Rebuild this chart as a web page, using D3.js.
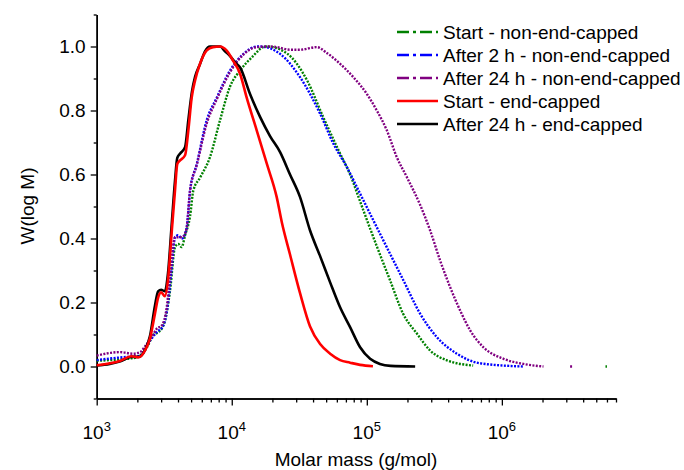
<!DOCTYPE html>
<html><head><meta charset="utf-8">
<script src="https://cdn.jsdelivr.net/npm/d3@7"></script>
<style>
body{margin:0;background:#fff;}
text{font-family:"Liberation Sans",Arial,sans-serif;fill:#000;}
</style></head>
<body><svg id="c" width="684" height="470"></svg>
<script>
// ---- data (molar mass in g/mol, normalized W(log M)) ----
const seriesNames = ["Start - non-end-capped","After 2 h - non-end-capped","After 24 h - non-end-capped","Start - end-capped","After 24 h - end-capped"];
const seriesColors = ["#008000","#0000ff","#800080","#ff0000","#000000"];

const startNonM = [1000,1254,1488,1765,1989,2165,2357,2613,2846,3045,3205,3491,3802,4022,4260,4510,4913,5194,5823,6907,8192,9715,11520,14380,17060,18260,25680,36130,47470,60260,75210,93890,119200,148800,185700,235800,294400,393400,613000,null,5850000,6000000];
const startNonW = [0.018,0.02,0.022,0.025,0.029,0.04,0.06,0.097,0.107,0.12,0.144,0.237,0.373,0.383,0.373,0.41,0.47,0.55,0.59,0.655,0.77,0.875,0.925,0.97,0.998,1.0,0.978,0.894,0.78,0.685,0.6,0.49,0.373,0.269,0.165,0.102,0.05,0.019,0.003,null,0.0,0.0];

const after2NonM = [1000,1566,2093,2482,2781,3114,3392,3594,3802,4003,4290,4641,4913,5510,6530,7743,9715,12215,15320,16200,22790,32050,45100,56620,71210,89220,105800,140400,186700,248200,329900,464200,690700,1445000];
const after2NonW = [0.02,0.029,0.033,0.081,0.107,0.128,0.206,0.31,0.404,0.41,0.40,0.435,0.55,0.633,0.77,0.84,0.925,0.977,1.0,1.0,0.977,0.904,0.79,0.696,0.623,0.54,0.477,0.373,0.269,0.165,0.092,0.04,0.01,0.0];

const after24NonM = [1000,1488,1858,2093,2345,2625,2781,3030,3300,3491,3802,4260,4510,4641,4913,5510,6530,7743,9715,12215,15320,19220,21540,27030,32050,42620,50540,63420,79580,100000,118600,140700,166800,197800,248200,294400,349100,414000,491000,582300,730800,1028000,1445000,2033000,null,3200000,3320000];
const after24NonW = [0.034,0.045,0.04,0.045,0.07,0.1,0.118,0.128,0.185,0.28,0.404,0.404,0.415,0.435,0.55,0.63,0.76,0.835,0.92,0.975,0.998,1.0,0.998,0.99,0.99,0.998,0.98,0.946,0.904,0.852,0.8,0.738,0.654,0.592,0.505,0.425,0.331,0.248,0.175,0.113,0.06,0.024,0.008,0.0,null,0.0,0.0];

const startCapM = [1000,1250,1500,1800,2050,2280,2480,2700,2850,3000,3200,3370,3600,3800,3950,4140,4510,4770,5050,5350,5820,6530,7270,8190,9180,10220,11520,12900,15300,18200,21500,23500,27000,32000,38000,45100,53500,63400,75200,89200,111000];
const startCapW = [0.004,0.01,0.018,0.032,0.029,0.05,0.088,0.165,0.215,0.232,0.22,0.27,0.425,0.55,0.633,0.644,0.66,0.738,0.84,0.894,0.946,0.988,0.998,1.0,0.987,0.956,0.915,0.84,0.738,0.633,0.53,0.45,0.35,0.23,0.125,0.07,0.04,0.02,0.012,0.005,0.001];

const after24CapM = [1000,1250,1500,1800,2050,2280,2480,2700,2850,3000,3200,3370,3600,3800,3950,4140,4510,4770,5080,5350,5820,6340,6900,7520,8190,8920,9720,10600,11500,13700,16200,19200,22800,27000,32000,38000,45100,53500,63400,75200,89200,105800,125000,150000,228000];
const after24CapW = [0.003,0.008,0.016,0.03,0.03,0.052,0.095,0.19,0.235,0.24,0.235,0.29,0.45,0.58,0.652,0.665,0.685,0.77,0.86,0.905,0.945,0.985,1.0,1.0,1.0,0.985,0.97,0.95,0.935,0.85,0.78,0.72,0.67,0.6,0.53,0.425,0.345,0.263,0.185,0.123,0.06,0.024,0.008,0.002,0.0];

const yMajorTicks = [0,0.2,0.4,0.6,0.8,1.0];
const yMinorTicks = [-0.1,0.1,0.3,0.5,0.7,0.9,1.1];
const xMajorTicks = [1e3,1e4,1e5,1e6];
const xMajorExp = ["3","4","5","6"];
const xLabel = "Molar mass (g/mol)";
const yLabel = "W(log M)";

// ---- chart ----
const svg = d3.select("#c");
const x = d3.scaleLog().domain([1e3, 7e6]).range([96.7, 616]);
const y = d3.scaleLinear().domain([-0.1, 1.1]).range([398.5, 14.5]);

const xMinor = [];
[1e3,1e4,1e5,1e6].forEach(d => { for (let k=2;k<=9;k++){ const v=d*k; if (v<=7e6) xMinor.push(v);} });

const fs = 19;
// x axis
const gx = svg.append("g").attr("transform",`translate(0,${y.range()[0]})`);
gx.call(d3.axisBottom(x).tickValues(xMinor).tickSize(4).tickSizeOuter(0).tickFormat(""));
gx.append("g").call(d3.axisBottom(x).tickValues(xMajorTicks).tickSize(7).tickSizeOuter(0).tickPadding(6)
  .tickFormat(() => ""));
gx.selectAll("path.domain").attr("stroke","#000").attr("stroke-width",1.5);
gx.selectAll(".tick line").attr("stroke","#000").attr("stroke-width",1.3);
const xl = gx.append("g").selectAll("text").data(xMajorTicks).join("text")
  .attr("x", d => x(d)).attr("y", 40).attr("text-anchor","middle")
  .style("font-size", fs+"px");
xl.append("tspan").text("10");
xl.append("tspan").attr("dy",-8).style("font-size","13px").text((d,i)=>xMajorExp[i]);

// y axis
const gy = svg.append("g").attr("transform",`translate(${x.range()[0]},0)`);
gy.call(d3.axisLeft(y).tickValues(yMinorTicks).tickSize(3).tickSizeOuter(0).tickFormat(""));
gy.append("g").call(d3.axisLeft(y).tickValues(yMajorTicks).tickSize(6).tickSizeOuter(0).tickPadding(5)
  .tickFormat(d3.format(".1f")));
gy.selectAll("path.domain").attr("stroke","#000").attr("stroke-width",1.5);
gy.selectAll(".tick line").attr("stroke","#000").attr("stroke-width",1.3);
gy.selectAll(".tick text").style("font-size",fs+"px").style("font-family","'Liberation Sans',Arial,sans-serif").attr("fill","#000");

// titles
svg.append("text").attr("x", 356).attr("y", 466).attr("text-anchor","middle").style("font-size",fs+"px").text(xLabel);
svg.append("text").attr("transform","translate(34,206) rotate(-90)").attr("text-anchor","middle").style("font-size",fs+"px").text(yLabel);

// curves
const seriesM = [startNonM, after2NonM, after24NonM, startCapM, after24CapM];
const seriesW = [startNonW, after2NonW, after24NonW, startCapW, after24CapW];
const line = d3.line().defined(d => d[0] !== null).x(d => x(d[0])).y(d => y(d[1])).curve(d3.curveMonotoneX);
const order = [0,1,2,4,3];
order.forEach(i => {
  const pts = seriesM[i].map((m,j) => [m, seriesW[i][j]]);
  const dotted = i < 3;
  svg.append("path").datum(pts).attr("d", line).attr("fill","none")
    .attr("stroke", seriesColors[i]).attr("stroke-width", dotted ? 2.4 : 2.6)
    .attr("stroke-dasharray", dotted ? "2,1.4" : null)
    .attr("stroke-linejoin","round");
});

// legend
const lg = svg.append("g");
seriesNames.forEach((n,i) => {
  const yy = 32 + i*23;
  lg.append("line").attr("x1",397).attr("x2",438).attr("y1",yy).attr("y2",yy)
    .attr("stroke",seriesColors[i]).attr("stroke-width",2.6)
    .attr("stroke-dasharray", i<3 ? "12,4,3,4" : null);
  lg.append("text").attr("x",443).attr("y",yy).attr("dy","0.35em").style("font-size","19px").text(n);
});
</script></body></html>
